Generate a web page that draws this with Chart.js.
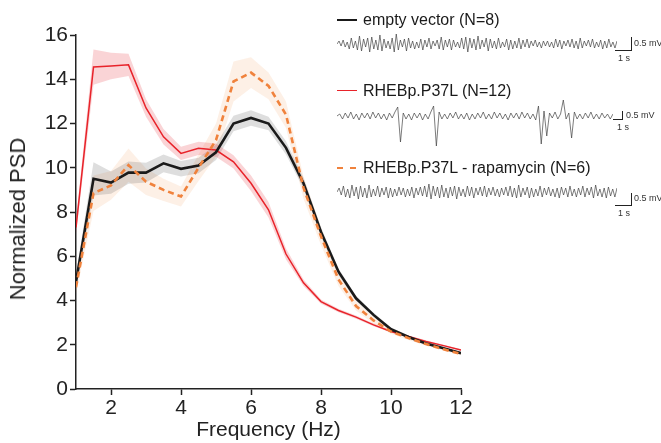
<!DOCTYPE html>
<html>
<head>
<meta charset="utf-8">
<script src="https://cdn.jsdelivr.net/npm/chart.js@4.4.0/dist/chart.umd.min.js"></script>
<style>
  body { margin: 0; background: #fff; font-family: "Liberation Sans", Arial, sans-serif; }
  #wrap { position: relative; width: 661px; height: 443px; }
  .abs { position: absolute; }
  .leg { position: absolute; font-size: 16px; color: #1a1a1a; white-space: nowrap; line-height: 18px; }
  .sample { position: absolute; width: 20px; height: 0; }
  .bar { position: absolute; border-left: 1px solid #222; border-bottom: 1px solid #222; }
  .small { position: absolute; font-size: 9px; color: #333; white-space: nowrap; }
  #ytitle { position: absolute; left: 18px; top: 219px; font-size: 22px; color: #222; white-space: nowrap;
            transform: translate(-50%, -50%) rotate(-90deg); line-height: 24px; }
</style>
</head>
<body>
<div id="wrap">
  <canvas id="psd" width="661" height="443" class="abs" style="left:0;top:0"></canvas>
  <div id="ytitle">Normalized PSD</div>

  <div class="sample" style="left:337px;top:19px;border-top:2.5px solid #1a1a1a"></div>
  <div class="leg" style="left:363px;top:11px">empty vector (N=8)</div>
  <canvas id="tr1" width="280" height="28" class="abs" style="left:337px;top:30px"></canvas>
  <div class="bar" style="left:631px;top:37px;width:0;height:13px"></div>
  <div class="bar" style="left:615px;top:50px;width:16px;height:0;border-left:none"></div>
  <div class="small" style="left:634px;top:38px">0.5 mV</div>
  <div class="small" style="left:618px;top:53px">1 s</div>

  <div class="sample" style="left:337px;top:90px;border-top:1.5px solid #e8232a"></div>
  <div class="leg" style="left:363px;top:82px">RHEBp.P37L (N=12)</div>
  <canvas id="tr2" width="276" height="52" class="abs" style="left:337px;top:98px"></canvas>
  <div class="bar" style="left:622px;top:111px;width:0;height:8px"></div>
  <div class="bar" style="left:613px;top:119px;width:9px;height:0;border-left:none"></div>
  <div class="small" style="left:626px;top:110px">0.5 mV</div>
  <div class="small" style="left:617px;top:122px">1 s</div>

  <div class="sample" style="left:337px;top:167px;border-top:2.5px dashed #f0823c;width:19px"></div>
  <div class="leg" style="left:363px;top:159px">RHEBp.P37L - rapamycin (N=6)</div>
  <canvas id="tr3" width="280" height="28" class="abs" style="left:337px;top:178px"></canvas>
  <div class="bar" style="left:631px;top:193px;width:0;height:12px"></div>
  <div class="bar" style="left:615px;top:205px;width:16px;height:0;border-left:none"></div>
  <div class="small" style="left:634px;top:193px">0.5 mV</div>
  <div class="small" style="left:618px;top:208px">1 s</div>
</div>
<script>
// frequências (Hz) e PSD normalizada média +/- erro
const freqs = [1, 1.5, 2, 2.5, 3, 3.5, 4, 4.5, 5, 5.5, 6, 6.5, 7, 7.5, 8, 8.5, 9, 9.5, 10, 10.5, 11, 11.5, 12];
const emptyMean = [4.85, 9.5, 9.33, 9.78, 9.78, 10.2, 9.95, 10.1, 10.7, 12.0, 12.25, 12.0, 10.9, 9.3, 7.1, 5.3, 4.1, 3.35, 2.7, 2.35, 2.06, 1.84, 1.62];
const emptyErr = [0.3, 0.75, 0.5, 0.5, 0.45, 0.4, 0.35, 0.35, 0.35, 0.35, 0.35, 0.3, 0.3, 0.25, 0.2, 0.15, 0.12, 0.1, 0.08, 0.07, 0.06, 0.05, 0.05];
const rhebMean = [7.3, 14.55, 14.6, 14.65, 12.7, 11.4, 10.65, 10.88, 10.8, 10.27, 9.3, 8.1, 6.1, 4.8, 3.95, 3.55, 3.25, 2.9, 2.6, 2.37, 2.15, 1.96, 1.76];
const rhebErr = [0.3, 0.8, 0.6, 0.5, 0.4, 0.35, 0.3, 0.3, 0.3, 0.3, 0.35, 0.35, 0.25, 0.15, 0.1, 0.08, 0.07, 0.06, 0.05, 0.05, 0.05, 0.04, 0.04];
const rapaMean = [4.6, 8.85, 9.2, 10.12, 9.37, 9.0, 8.7, 10.0, 11.25, 13.9, 14.3, 13.7, 12.4, 9.1, 6.9, 4.95, 3.75, 3.1, 2.6, 2.3, 2.03, 1.8, 1.58];
const rapaErr = [0.3, 0.8, 0.65, 0.75, 0.6, 0.5, 0.45, 0.6, 0.75, 0.9, 0.7, 0.6, 0.6, 0.5, 0.4, 0.3, 0.2, 0.15, 0.1, 0.08, 0.07, 0.06, 0.05];

const xTicks = [2, 4, 6, 8, 10, 12];
const yTicks = [0, 2, 4, 6, 8, 10, 12, 14, 16];

// traços de EEG (amostras lidas aproximadamente da figura, em px)
const trace1 = [0,3,-2,4,-3,2,-5,6,-4,3,-6,8,-7,5,-3,6,-8,7,-5,4,-6,9,-7,5,-4,3,-5,6,-8,10,-6,4,-3,5,-7,6,-4,3,-5,2,-4,5,-6,4,-3,6,-5,3,-2,4,-5,7,-6,4,-3,5,-6,4,-3,2,-4,6,-5,7,-8,6,-4,5,-6,8,-5,4,-3,6,-7,5,-4,3,-5,6,-4,2,-3,5,-6,4,-5,3,-4,6,-5,4,-3,5,-4,3,-2,4,-3,2,-4,3,-2,3,-3,2,-4,5,-3,4,-5,3,-2,4,-3,5,-4,3,-5,6,-4,3,-2,4,-3,5,-4,2,-3,4,-5,3,-4,5,-3,2,-4,3];
const trace2 = [0,2,-3,3,-2,4,-3,2,-4,3,-2,3,-3,4,-2,3,-3,2,-4,3,-2,4,9,-26,3,-3,2,-4,3,-2,3,-4,2,-3,4,10,-30,4,-3,2,-3,3,-2,4,-3,2,-3,3,-4,2,-3,3,-2,4,-3,2,-3,4,-2,3,-3,2,-4,3,-2,3,-3,4,-2,3,-3,2,-4,10,-28,5,-20,3,-2,4,-3,2,16,-3,3,-22,4,-3,2,-3,3,-2,4,-3,2,-3,3,-2,2,-3,2];
const trace3 = [0,4,-3,6,-5,3,-6,7,-4,5,-7,6,-5,4,-6,7,-5,3,-4,6,-5,4,-3,5,-6,4,-5,3,-4,5,-3,4,-5,3,-4,5,-6,4,-3,5,-4,6,-5,8,-7,6,-4,5,-6,7,-5,4,-6,5,-4,6,-7,5,-4,3,-5,6,-4,5,-6,4,-3,5,-4,6,-5,4,-3,5,-4,3,-5,4,-3,5,-4,6,-5,4,-6,7,-5,4,-3,5,-6,4,-5,3,-4,6,-5,4,-3,5,-4,3,-5,4,-6,5,-3,4,-5,6,-4,3,-5,4,-3,6,-5,4,-3,5,-6,7,-4,3,-5,4,-6,5,-4,3,-5,4];

function pts(values) {
    return values.map((v, i) => ({ x: freqs[i], y: v }));
}

function bandDatasets(mean, err, color) {
    return [
        { data: pts(mean.map((m, i) => m + err[i])), borderWidth: 0, pointRadius: 0, fill: '+1', backgroundColor: color, order: 5 },
        { data: pts(mean.map((m, i) => m - err[i])), borderWidth: 0, pointRadius: 0, fill: false, order: 5 }
    ];
}

const fontFam = '"Liberation Sans", Arial, sans-serif';

new Chart(document.getElementById('psd'), {
    type: 'line',
    data: {
        datasets: [
            { data: pts(rapaMean), borderColor: '#f0823c', borderWidth: 2.6, borderDash: [6, 4], pointRadius: 0, fill: false, order: 0 },
            { data: pts(emptyMean), borderColor: '#1a1a1a', borderWidth: 2.6, pointRadius: 0, fill: false, order: 1 },
            { data: pts(rhebMean), borderColor: '#e8232a', borderWidth: 1.5, pointRadius: 0, fill: false, order: 2 },
            ...bandDatasets(rhebMean, rhebErr, 'rgba(232, 60, 70, 0.22)'),
            ...bandDatasets(emptyMean, emptyErr, 'rgba(60, 60, 60, 0.17)'),
            ...bandDatasets(rapaMean, rapaErr, 'rgba(240, 160, 100, 0.16)')
        ]
    },
    options: {
        responsive: false,
        animation: false,
        layout: { padding: { left: 0, top: 35, right: 200, bottom: 0 } },
        plugins: { legend: { display: false }, tooltip: { enabled: false } },
        scales: {
            x: {
                type: 'linear',
                min: 1,
                max: 12,
                afterBuildTicks: (scale) => { scale.ticks = xTicks.map(v => ({ value: v })); },
                afterFit: (scale) => { scale.height = 54; },
                border: { color: '#222', width: 1.5 },
                grid: { drawOnChartArea: false, tickLength: 6, color: '#222', tickWidth: 1.5 },
                ticks: { color: '#222', font: { family: fontFam, size: 21 }, padding: 1, maxRotation: 0 },
                title: { display: true, text: 'Frequency (Hz)', color: '#222', font: { family: fontFam, size: 21 }, padding: { top: 0, bottom: 0 } }
            },
            y: {
                min: 0,
                max: 16,
                afterBuildTicks: (scale) => { scale.ticks = yTicks.map(v => ({ value: v })); },
                afterFit: (scale) => { scale.width = 76; },
                border: { color: '#222', width: 1.5 },
                grid: { drawOnChartArea: false, tickLength: 6, color: '#222', tickWidth: 1.5 },
                ticks: { color: '#222', font: { family: fontFam, size: 21 }, padding: 2 }
            }
        }
    }
});

function traceChart(id, values, yMin, yMax) {
    new Chart(document.getElementById(id), {
        type: 'line',
        data: {
            datasets: [{ data: values.map((v, i) => ({ x: i, y: v })), borderColor: '#444', borderWidth: 0.7, pointRadius: 0, fill: false }]
        },
        options: {
            responsive: false,
            animation: false,
            layout: { padding: 0 },
            plugins: { legend: { display: false }, tooltip: { enabled: false } },
            scales: {
                x: { type: 'linear', display: false, min: 0, max: values.length - 1 },
                y: { display: false, min: yMin, max: yMax }
            }
        }
    });
}

traceChart('tr1', trace1, -14, 14);
traceChart('tr2', trace2, -34, 18);
traceChart('tr3', trace3, -14, 14);
</script>
</body>
</html>
